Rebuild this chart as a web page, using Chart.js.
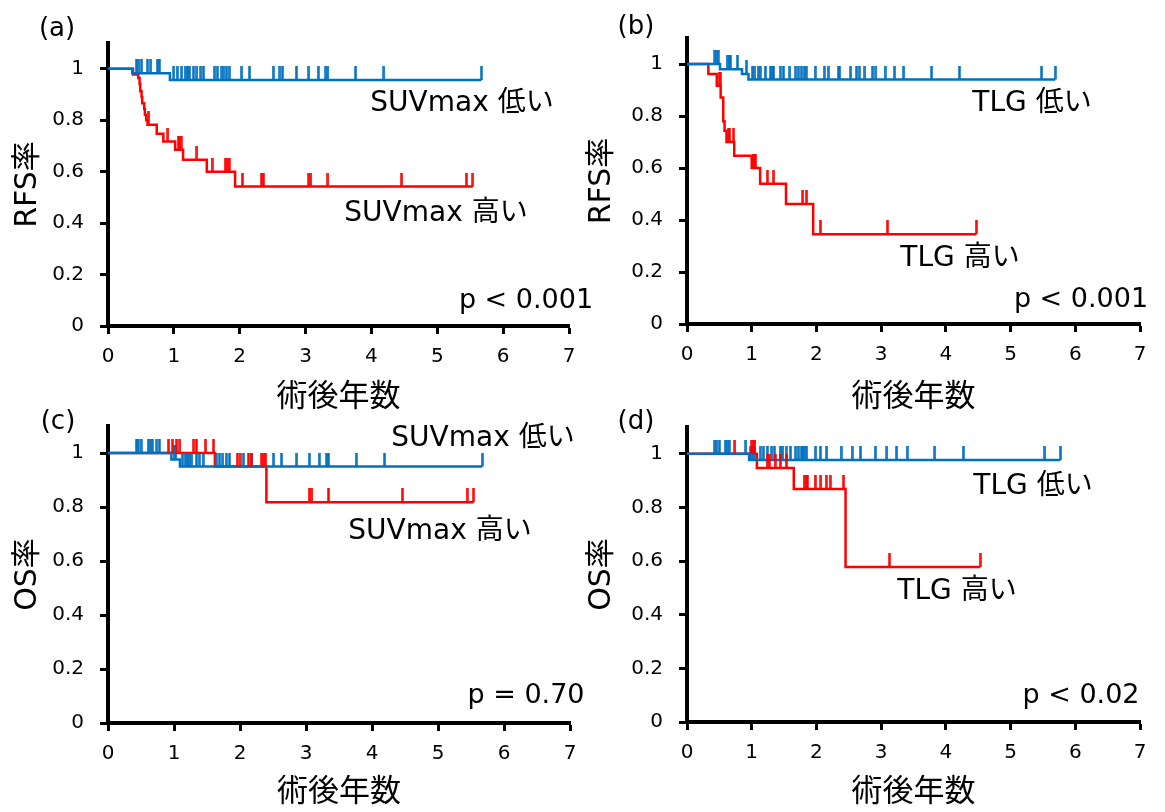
<!DOCTYPE html>
<html><head><meta charset="utf-8">
<script src="https://cdn.jsdelivr.net/npm/chart.js@4"></script>
<style>
html,body{margin:0;padding:0;background:#fff;}
#wrap{position:relative;width:1165px;height:812px;overflow:hidden;font-family:"DejaVu Sans","Noto Sans CJK JP",sans-serif;}
canvas{position:absolute;}
.lbl{position:absolute;transform:translate(-50%,-50%);white-space:nowrap;color:#000;font-size:28px;line-height:1;}
.pv{font-size:27px;}
.pn{font-size:26px;}
</style></head>
<body><div id="wrap">
<canvas id="ca" width="582" height="420" style="left:0;top:0;width:582px;height:420px"></canvas>
<canvas id="cb" width="583" height="420" style="left:582px;top:0;width:583px;height:420px"></canvas>
<canvas id="cc" width="582" height="412" style="left:0;top:400px;width:582px;height:412px"></canvas>
<canvas id="cd" width="583" height="412" style="left:582px;top:400px;width:583px;height:412px"></canvas>
<div class="lbl pn" style="left:57px;top:27px">(a)</div>
<div class="lbl pn" style="left:636px;top:25px">(b)</div>
<div class="lbl pn" style="left:58px;top:420px">(c)</div>
<div class="lbl pn" style="left:636px;top:420px">(d)</div>
<div class="lbl" style="left:462px;top:102px">SUVmax 低い</div>
<div class="lbl" style="left:436px;top:212px">SUVmax 高い</div>
<div class="lbl pv" style="left:526px;top:298px">p &lt; 0.001</div>
<div class="lbl" style="left:1032px;top:102px">TLG 低い</div>
<div class="lbl" style="left:960px;top:257px">TLG 高い</div>
<div class="lbl pv" style="left:1081px;top:297px">p &lt; 0.001</div>
<div class="lbl" style="left:483px;top:437px">SUVmax 低い</div>
<div class="lbl" style="left:440px;top:530px">SUVmax 高い</div>
<div class="lbl pv" style="left:526px;top:693px">p = 0.70</div>
<div class="lbl" style="left:1033px;top:485px">TLG 低い</div>
<div class="lbl" style="left:957px;top:590px">TLG 高い</div>
<div class="lbl pv" style="left:1081px;top:693px">p &lt; 0.02</div>
</div>
<script>
// ---- shared tick labels ----
const xTicks = [0, 1, 2, 3, 4, 5, 6, 7];
const yTicks = [0, 0.2, 0.4, 0.6, 0.8, 1];
const xTitle = '術後年数';

// ---- (a) RFS by SUVmax ----
const aLowTime = [0, 0.37, 0.94, 5.67];
const aLowSurv = [1, 0.982, 0.956, 0.956];
const aLowCensor = [0.43, 0.47, 0.51, 0.60, 0.65, 0.75, 0.78, 1.00, 1.05, 1.12, 1.17, 1.21, 1.24, 1.30, 1.35, 1.41, 1.45, 1.62, 1.66, 1.73, 1.76, 1.80, 1.84, 2.03, 2.15, 2.51, 2.61, 2.65, 2.86, 3.05, 3.19, 3.31, 3.34, 3.76, 4.19, 5.67];
const aHighTime = [0, 0.38, 0.46, 0.48, 0.49, 0.51, 0.52, 0.55, 0.56, 0.58, 0.60, 0.74, 0.84, 1.02, 1.14, 1.50, 1.93, 5.54];
const aHighSurv = [1, 0.978, 0.964, 0.942, 0.912, 0.89, 0.866, 0.843, 0.821, 0.80, 0.782, 0.747, 0.717, 0.685, 0.646, 0.60, 0.542, 0.542];
const aHighCensor = [0.62, 0.91, 1.07, 1.09, 1.11, 1.35, 1.58, 1.78, 1.81, 1.84, 2.04, 2.33, 2.36, 3.05, 3.08, 3.34, 4.46, 5.44, 5.54];

// ---- (b) RFS by TLG ----
const bLowTime = [0, 0.51, 0.85, 0.95, 5.69];
const bLowSurv = [1, 0.98, 0.962, 0.94, 0.94];
const bLowCensor = [0.43, 0.46, 0.48, 0.62, 0.65, 0.67, 0.78, 0.92, 1.015, 1.05, 1.10, 1.13, 1.21, 1.29, 1.32, 1.34, 1.44, 1.49, 1.59, 1.68, 1.72, 1.77, 1.81, 1.84, 1.98, 2.12, 2.18, 2.34, 2.36, 2.53, 2.62, 2.66, 2.75, 2.87, 2.92, 3.06, 3.21, 3.35, 3.78, 4.21, 5.48, 5.69];
const bHighTime = [0, 0.33, 0.46, 0.52, 0.56, 0.58, 0.61, 0.73, 1.00, 1.13, 1.53, 1.95, 4.47];
const bHighSurv = [1, 0.962, 0.916, 0.871, 0.78, 0.743, 0.70, 0.647, 0.60, 0.539, 0.462, 0.345, 0.345];
const bHighCensor = [0.50, 0.51, 0.64, 0.66, 0.72, 1.02, 1.04, 1.06, 1.24, 1.34, 1.79, 1.85, 2.06, 3.10, 4.47];

// ---- (c) OS by SUVmax ----
const cLowTime = [0, 0.96, 1.09, 5.67];
const cLowSurv = [1, 0.976, 0.95, 0.95];
const cLowCensor = [0.43, 0.46, 0.50, 0.61, 0.64, 0.67, 0.74, 0.78, 1.00, 1.03, 1.13, 1.17, 1.20, 1.23, 1.27, 1.34, 1.38, 1.44, 1.64, 1.69, 1.74, 1.79, 1.84, 2.05, 2.18, 2.51, 2.63, 2.86, 3.05, 3.20, 3.31, 3.34, 3.76, 4.19, 5.67];
const cHighTime = [0, 1.62, 2.40, 5.54];
const cHighSurv = [1, 0.95, 0.818, 0.818];
const cHighCensor = [0.92, 0.98, 1.04, 1.09, 1.30, 1.34, 1.48, 1.60, 1.96, 2.00, 2.13, 2.17, 2.33, 2.36, 2.39, 3.05, 3.09, 3.34, 4.46, 5.44, 5.54];

// ---- (d) OS by TLG ----
const dLowTime = [0, 0.96, 5.77];
const dLowSurv = [1, 0.977, 0.977];
const dLowCensor = [0.43, 0.46, 0.50, 0.59, 0.62, 0.65, 0.91, 0.98, 1.01, 1.04, 1.13, 1.18, 1.24, 1.31, 1.35, 1.44, 1.48, 1.53, 1.60, 1.68, 1.72, 1.77, 1.79, 1.81, 1.85, 1.99, 2.06, 2.16, 2.38, 2.55, 2.68, 2.91, 3.09, 3.24, 3.40, 3.83, 4.27, 5.53, 5.77];
const dHighTime = [0, 1.08, 1.65, 2.45, 4.53];
const dHighSurv = [1, 0.947, 0.869, 0.578, 0.578];
const dHighCensor = [0.74, 1.00, 1.03, 1.05, 1.24, 1.27, 1.36, 1.44, 1.54, 1.81, 1.84, 1.86, 1.98, 2.07, 2.15, 2.21, 2.42, 3.13, 4.53];

const BLUE = '#0070C0';
const RED = '#FF0000';
const FONT = '"DejaVu Sans","Noto Sans CJK JP",sans-serif';

function tickMark(color) {
  const c = document.createElement('canvas');
  c.width = 3; c.height = 28;
  const g = c.getContext('2d');
  g.fillStyle = color;
  g.fillRect(0.25, 0, 2.5, 14);
  return c;
}
const blueTick = tickMark(BLUE), redTick = tickMark(RED);

function survAt(times, surv, t) {
  let v = surv[0];
  for (let i = 0; i < times.length; i++) { if (times[i] <= t) v = surv[i]; }
  return v;
}
function curve(times, surv, color) {
  return { type: 'line', data: times.map((t, i) => ({ x: t, y: surv[i] })), borderColor: color,
    borderWidth: 2.5, stepped: true, pointRadius: 0, fill: false, tension: 0 };
}
function censors(times, surv, cens, color, img) {
  return { type: 'scatter', data: cens.map(t => ({ x: t, y: survAt(times, surv, t) })), showLine: false,
    pointStyle: img, pointRadius: 3, backgroundColor: color, borderColor: color };
}

function makeChart(id, geo, yTitle, low, high) {
  const datasets = [
    censors(high.t, high.s, high.c, RED, redTick),
    censors(low.t, low.s, low.c, BLUE, blueTick),
    curve(low.t, low.s, BLUE),
    curve(high.t, high.s, RED)
  ];
  new Chart(document.getElementById(id), {
    type: 'scatter',
    data: { datasets },
    options: {
      responsive: false, animation: false, devicePixelRatio: 1,
      layout: { padding: { left: 0, top: geo.top, right: geo.right, bottom: 0 } },
      plugins: { legend: { display: false }, tooltip: { enabled: false } },
      scales: {
        x: {
          type: 'linear', min: 0, max: 7,
          afterBuildTicks: s => { s.ticks = xTicks.map(v => ({ value: v })); },
          afterFit: s => { s.height = geo.xH; s.paddingLeft = 0; s.paddingRight = 0; },
          ticks: { color: '#000', font: { family: FONT, size: 20 }, padding: 11, maxRotation: 0, callback: v => String(v) },
          grid: { display: true, drawOnChartArea: false, drawTicks: true, tickLength: 8, tickWidth: 3, tickColor: '#000' },
          border: { display: true, color: '#000', width: 4 },
          title: { display: true, text: xTitle, color: '#000', font: { family: FONT, size: 31 }, padding: { top: 0, bottom: geo.xtb } }
        },
        y: {
          type: 'linear', min: 0, max: 1.1,
          afterBuildTicks: s => { s.ticks = yTicks.map(v => ({ value: v })); },
          afterFit: s => { s.width = geo.yW; s.paddingTop = 0; s.paddingBottom = 0; },
          ticks: { color: '#000', font: { family: FONT, size: 20 }, padding: 16, callback: v => String(+v.toFixed(1)) },
          grid: { display: true, drawOnChartArea: false, drawTicks: true, tickLength: 8, tickWidth: 3, tickColor: '#000' },
          border: { display: true, color: '#000', width: 4 },
          title: { display: true, text: yTitle, color: '#000', font: { family: FONT, size: 30 }, padding: { top: geo.ytp, bottom: 0 } }
        }
      }
    }
  });
}

makeChart('ca', { top: 43, right: 13, xH: 94, yW: 108, xtb: 3, ytp: 10 }, 'RFS率',
  { t: aLowTime, s: aLowSurv, c: aLowCensor }, { t: aHighTime, s: aHighSurv, c: aHighCensor });
makeChart('cb', { top: 38, right: 25, xH: 96, yW: 105, xtb: 3, ytp: 2 }, 'RFS率',
  { t: bLowTime, s: bLowSurv, c: bLowCensor }, { t: bHighTime, s: bHighSurv, c: bHighCensor });
makeChart('cc', { top: 26, right: 12, xH: 89, yW: 108, xtb: 0, ytp: 10 }, 'OS率',
  { t: cLowTime, s: cLowSurv, c: cLowCensor }, { t: cHighTime, s: cHighSurv, c: cHighCensor });
makeChart('cd', { top: 27, right: 25, xH: 90, yW: 105, xtb: 0, ytp: 2 }, 'OS率',
  { t: dLowTime, s: dLowSurv, c: dLowCensor }, { t: dHighTime, s: dHighSurv, c: dHighCensor });
</script>
</body></html>
